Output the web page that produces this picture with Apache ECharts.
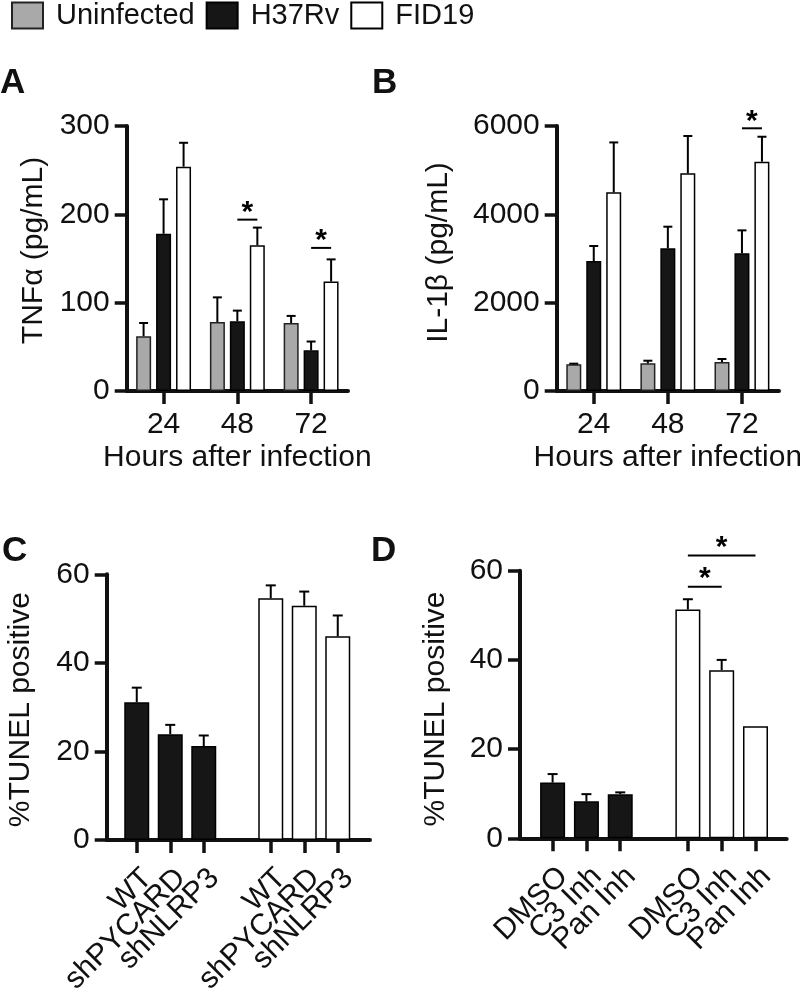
<!DOCTYPE html>
<html><head><meta charset="utf-8">
<script src="https://cdn.jsdelivr.net/npm/echarts@6/dist/echarts.min.js"></script>
<style>html,body{margin:0;padding:0;background:#fff}#c{width:800px;height:988px}</style>
</head><body><div id="c"></div>
<script>
// ---------- data ----------
const hoursCategories = ['24', '48', '72'];
// Panel A: TNFα (pg/mL), mean and SEM
const tnfUninfected = [62, 78, 77];
const tnfUninfectedSem = [15, 28, 8];
const tnfH37Rv = [178, 79, 46];
const tnfH37RvSem = [39, 12, 10];
const tnfFID19 = [254, 165, 124];
const tnfFID19Sem = [27, 20, 25];
// Panel B: IL-1β (pg/mL)
const il1bUninfected = [604, 626, 656];
const il1bUninfectedSem = [15, 60, 68];
const il1bH37Rv = [2943, 3230, 3117];
const il1bH37RvSem = [340, 490, 520];
const il1bFID19 = [4498, 4928, 5192];
const il1bFID19Sem = [1130, 845, 565];
// Panel C: %TUNEL positive, shRNA knockdowns
const shCategories = ['WT', 'shPYCARD', 'shNLRP3'];
const tunelShH37Rv = [31.1, 23.9, 21.2];
const tunelShH37RvSem = [3.3, 2.1, 2.4];
const tunelShFID19 = [54.6, 52.9, 46.0];
const tunelShFID19Sem = [2.9, 3.2, 4.7];
// Panel D: %TUNEL positive, caspase inhibitors
const inhCategories = ['DMSO', 'C3 Inh', 'Pan Inh'];
const tunelInhH37Rv = [12.5, 8.3, 9.9];
const tunelInhH37RvSem = [1.9, 1.6, 0.4];
const tunelInhFID19 = [51.3, 37.7, 25.1];
const tunelInhFID19Sem = [2.3, 2.3, 0];
// significance bars: [category, fromSeries, toSeries, y]
const sigA = [[1, 1, 2, 194], [2, 1, 2, 162]];
const sigB = [[2, 1, 2, 5948]];
// significance within FID19 group of D: [fromCategory, toCategory, y]
const sigD = [['DMSO', 'C3 Inh', 56.4], ['DMSO', 'Pan Inh', 63.4]];

// ---------- styles ----------
const FONT = 'Liberation Sans, Arial, sans-serif';
const INK = '#111';
const COL = {
  Uninfected: { color: '#a9a9a9', borderColor: '#222', borderWidth: 1.5 },
  H37Rv: { color: '#161616', borderColor: '#000', borderWidth: 1.5 },
  FID19: { color: '#ffffff', borderColor: '#000', borderWidth: 1.5 }
};
const GROUP_STEP = 20; // px between bar centers in grouped panels

const chart = echarts.init(document.getElementById('c'), null, { renderer: 'canvas' });

function errRender(offset, cap) {
  return function (params, api) {
    const x = api.value(0), v = api.value(1), e = api.value(2);
    if (!(e > 0)) return null;
    const p0 = api.coord([x, v]);
    const p1 = api.coord([x, v + e]);
    const cx = p0[0] + offset;
    const st = { stroke: '#000', lineWidth: 2 };
    return {
      type: 'group', children: [
        { type: 'line', shape: { x1: cx, y1: p0[1], x2: cx, y2: p1[1] }, style: st },
        { type: 'line', shape: { x1: cx - cap / 2, y1: p1[1], x2: cx + cap / 2, y2: p1[1] }, style: st }
      ]
    };
  };
}
function sigShape(x1, x2, y, starLift) {
  return {
    type: 'group', children: [
      { type: 'line', shape: { x1: x1, y1: y, x2: x2, y2: y }, style: { stroke: '#000', lineWidth: 2 } },
      { type: 'text', style: { text: '*', x: (x1 + x2) / 2, y: y - starLift, align: 'center', verticalAlign: 'middle', font: 'bold 30px ' + FONT, fill: '#000' } }
    ]
  };
}
function sigGroupRender(params, api) {
  const c = api.value(0), s1 = api.value(1), s2 = api.value(2), y = api.value(3);
  const p = api.coord([c, y]);
  return sigShape(p[0] + (s1 - 1) * GROUP_STEP, p[0] + (s2 - 1) * GROUP_STEP, p[1], 7);
}
function sigPairRender(params, api) {
  const a = api.coord([api.value(0), api.value(2)]);
  const b = api.coord([api.value(1), api.value(2)]);
  return sigShape(a[0], b[0], a[1], 8);
}

const axisLineStyle = { show: true, lineStyle: { color: INK, width: 4 } };
const tickStyle = (len) => ({ show: true, length: len, lineStyle: { color: INK, width: 3.5 } });
const labelStyle = (margin) => ({ margin: margin, fontSize: 30, color: INK, fontFamily: FONT, formatter: (v) => String(v) });

function yAxisCfg(grid, max, interval, name, gap, pad) {
  return {
    type: 'value', gridIndex: grid, min: 0, max: max, interval: interval,
    axisLine: axisLineStyle, axisTick: tickStyle(12), axisLabel: labelStyle(17), splitLine: { show: false },
    name: name, nameLocation: 'middle', nameGap: gap,
    nameTextStyle: { fontSize: 30, color: INK, fontFamily: FONT, padding: pad }
  };
}
function groupedXAxis(grid) {
  return {
    type: 'category', gridIndex: grid, data: hoursCategories,
    axisLine: axisLineStyle, axisTick: Object.assign(tickStyle(13), { alignWithLabel: true }),
    axisLabel: labelStyle(19),
    name: 'Hours after infection', nameLocation: 'middle', nameGap: 52,
    nameTextStyle: { fontSize: 30, color: INK, fontFamily: FONT }
  };
}
function splitXAxis(grid, cats) {
  const data = cats.concat([''], cats);
  return {
    type: 'category', gridIndex: grid, data: data,
    axisLine: { show: false },
    axisTick: { show: true, alignWithLabel: true, length: 13, lineStyle: { color: INK, width: 3.5 }, interval: (i, v) => v !== '' },
    axisLabel: { interval: 0, rotate: 45, align: 'right', verticalAlign: 'top', margin: 23, fontSize: 30, color: INK, fontFamily: FONT }
  };
}
function frameXAxis(grid) {
  return { type: 'value', gridIndex: grid, min: 0, max: 1, axisLine: axisLineStyle, axisTick: { show: false }, axisLabel: { show: false }, splitLine: { show: false } };
}
function hiddenY(grid) {
  return { type: 'value', gridIndex: grid, min: 0, max: 60, show: false };
}

function groupedSeries(xi, yi, u, uS, h, hS, f, fS) {
  const list = [];
  const names = ['Uninfected', 'H37Rv', 'FID19'];
  const vals = [u, h, f], sems = [uS, hS, fS];
  names.forEach((n, s) => {
    list.push({
      name: n, type: 'bar', xAxisIndex: xi, yAxisIndex: yi, data: vals[s],
      barWidth: 15, barGap: '33%', itemStyle: COL[n], z: 2
    });
  });
  names.forEach((n, s) => {
    list.push({
      type: 'custom', xAxisIndex: xi, yAxisIndex: yi, clip: false, z: 3,
      renderItem: errRender((s - 1) * GROUP_STEP, 9),
      data: vals[s].map((v, i) => [i, v, sems[s][i]])
    });
  });
  return list;
}
function splitSeries(xi, yi, h, hS, f, fS) {
  const n = h.length;
  const hData = h.concat(new Array(n + 1).fill('-'));
  const fData = new Array(n + 1).fill('-').concat(f);
  const errData = h.map((v, i) => [i, v, hS[i]]).concat(f.map((v, i) => [n + 1 + i, v, fS[i]]));
  return [
    { name: 'H37Rv', type: 'bar', xAxisIndex: xi, yAxisIndex: yi, data: hData, barWidth: 25, barGap: '-100%', itemStyle: COL.H37Rv },
    { name: 'FID19', type: 'bar', xAxisIndex: xi, yAxisIndex: yi, data: fData, barWidth: 25, barGap: '-100%', itemStyle: COL.FID19 },
    { type: 'custom', xAxisIndex: xi, yAxisIndex: yi, clip: false, z: 3, renderItem: errRender(0, 10), data: errData }
  ];
}

const gridBase = { containLabel: false, outerBoundsMode: 'none' };
const option = {
  animation: false,
  backgroundColor: '#fff',
  textStyle: { fontFamily: FONT },
  legend: {
    left: 11, top: 1, padding: 0, itemWidth: 31, itemHeight: 26, itemGap: 11, icon: 'rect', selectedMode: false,
    textStyle: { fontFamily: FONT, fontSize: 29, color: INK, padding: [0, 0, 0, 8] },
    data: [
      { name: 'Uninfected', itemStyle: { color: '#a9a9a9', borderColor: '#222', borderWidth: 2 } },
      { name: 'H37Rv', itemStyle: { color: '#161616', borderColor: '#000', borderWidth: 2 } },
      { name: 'FID19', itemStyle: { color: '#fff', borderColor: '#000', borderWidth: 2 } }
    ]
  },
  grid: [
    Object.assign({ left: 126.7, top: 126, width: 221.3, height: 265 }, gridBase),   // A
    Object.assign({ left: 556.7, top: 126, width: 222.3, height: 265 }, gridBase),   // B
    Object.assign({ left: 106.7, top: 574.3, width: 263.3, height: 265.7 }, gridBase), // C frame
    Object.assign({ left: 120, top: 574.3, width: 234.5, height: 265.7 }, gridBase),   // C bars
    Object.assign({ left: 520, top: 570.7, width: 266.7, height: 267.6 }, gridBase),   // D frame
    Object.assign({ left: 535.7, top: 570.7, width: 236.7, height: 267.6 }, gridBase)  // D bars
  ],
  xAxis: [
    groupedXAxis(0),
    groupedXAxis(1),
    frameXAxis(2),
    splitXAxis(3, shCategories),
    frameXAxis(4),
    splitXAxis(5, inhCategories)
  ],
  yAxis: [
    yAxisCfg(0, 300, 100, 'TNFα (pg/mL)', 78, [0, 0, 0, 16]),
    yAxisCfg(1, 6000, 2000, 'IL-1β (pg/mL)', 103, [0, 0, 0, 12]),
    yAxisCfg(2, 60, 20, '%TUNEL positive', 71, [0, 5, 0, 0]),
    hiddenY(3),
    yAxisCfg(4, 60, 20, '%TUNEL positive', 69, [0, 9, 0, 0]),
    hiddenY(5)
  ],
  series: [].concat(
    groupedSeries(0, 0, tnfUninfected, tnfUninfectedSem, tnfH37Rv, tnfH37RvSem, tnfFID19, tnfFID19Sem),
    [{ type: 'custom', xAxisIndex: 0, yAxisIndex: 0, clip: false, z: 4, renderItem: sigGroupRender, data: sigA }],
    groupedSeries(1, 1, il1bUninfected, il1bUninfectedSem, il1bH37Rv, il1bH37RvSem, il1bFID19, il1bFID19Sem),
    [{ type: 'custom', xAxisIndex: 1, yAxisIndex: 1, clip: false, z: 4, renderItem: sigGroupRender, data: sigB }],
    splitSeries(3, 3, tunelShH37Rv, tunelShH37RvSem, tunelShFID19, tunelShFID19Sem),
    splitSeries(5, 5, tunelInhH37Rv, tunelInhH37RvSem, tunelInhFID19, tunelInhFID19Sem),
    [{
      type: 'custom', xAxisIndex: 5, yAxisIndex: 5, clip: false, z: 4, renderItem: sigPairRender,
      data: sigD.map(d => [inhCategories.length + 1 + inhCategories.indexOf(d[0]), inhCategories.length + 1 + inhCategories.indexOf(d[1]), d[2]])
    }]
  ),
  graphic: [
    { type: 'text', left: 0, top: 66, style: { text: 'A', font: 'bold 35px ' + FONT, fill: INK } },
    { type: 'text', left: 372, top: 66, style: { text: 'B', font: 'bold 35px ' + FONT, fill: INK } },
    { type: 'text', left: 2, top: 534, style: { text: 'C', font: 'bold 35px ' + FONT, fill: INK } },
    { type: 'text', left: 371, top: 534, style: { text: 'D', font: 'bold 35px ' + FONT, fill: INK } }
  ]
};
chart.setOption(option);
</script>
</body></html>
